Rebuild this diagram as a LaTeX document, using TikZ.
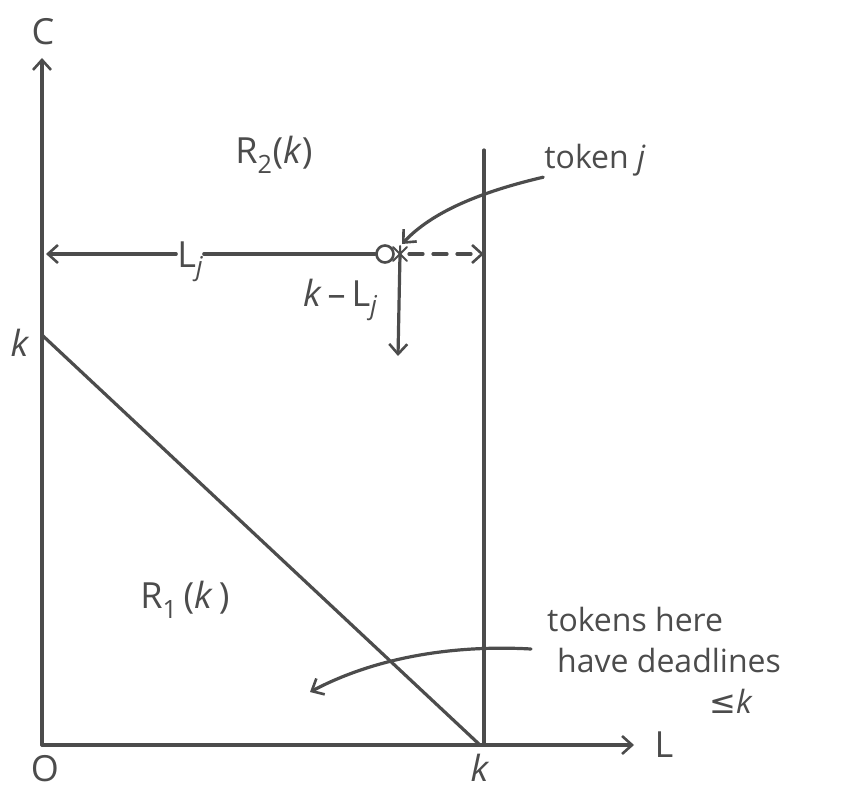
\documentclass[tikz,border=0pt]{standalone}
\usepackage{fontspec}
\setmainfont{Open Sans}
\newfontfamily\symfont{DejaVu Sans}
\usetikzlibrary{arrows.meta,calc}
\definecolor{pencil}{gray}{0.30}
\tikzset{
  ink/.style={draw=pencil, line width=3.2pt, line cap=round},
  tip/.style={-{Straight Barb[length=10pt,width=18pt,line width=2.6pt]}},
  lbl/.style={text=pencil, inner sep=1pt, font=\fontsize{32}{41}\selectfont},
  sym/.style={text=pencil, inner sep=1pt, font=\fontsize{36}{40}\selectfont},
}
\begin{document}
\begin{tikzpicture}[x=1pt,y=-1pt]
\useasboundingbox (0,0) rectangle (851,794);
% key points
\coordinate (O) at (42,745);
\coordinate (Ctop) at (42,58);
\coordinate (Lend) at (634,745);
\coordinate (kL) at (480,745);
\coordinate (kC) at (42,335);
\coordinate (vtop) at (484,150);
\coordinate (vbot) at (484,745);
\coordinate (hl) at (46,254);
\coordinate (hr) at (484,254);
% axes
\draw[ink,tip] (O) -- (Ctop);
\draw[ink,tip] (O) -- (Lend);
\draw[ink] (vtop) -- (vbot);
\draw[ink] (kC) -- (kL);
% labels on axes
\node[sym] (Clab) at (43,32) {C};
\node[sym] (Llab) at (664,745) {L};
\node[sym] (Olab) at (45,769) {O};
\node[sym] (kbot) at (480,768) {\textit{k}};
\node[sym] (kleft) at (20,343) {\textit{k}};
% regions
\node[sym] (R2) at (274,155) {R$_{\mathrm{2}}$(\textit{k})};
\node[sym] (R1) at (185,600) {R$_{\mathrm{1}}$\,(\textit{k}\,)};
% token j
\node[draw=pencil, line width=2.6pt, circle, minimum size=17pt, inner sep=0pt] (tok) at (385,254) {};
\coordinate (star) at (400,254);
\draw[ink, line width=2pt] ($(star)+(-7,-7)$) -- ($(star)+(7,7)$) ($(star)+(-7,7)$) -- ($(star)+(7,-7)$) ($(star)+(0,-8)$) -- ($(star)+(0,8)$);
\node[sym] (Lj) at (190,262) {L\textit{\fontsize{26}{30}\selectfont\raisebox{-8pt}{j}}};
\draw[ink,tip] (Lj.west |- hr) -- (hl);
\draw[ink] (Lj.east |- hr) -- (tok.west);
\draw[ink,tip,dash pattern=on 14pt off 10pt] ($(star)+(9,0)$) -- (hr);
\coordinate (down) at (398,356);
\draw[ink,tip] (star) -- (down);
\node[sym] (kLj) at (340,300) {\textit{k}\,--\,L\textit{\fontsize{26}{30}\selectfont\raisebox{-8pt}{j}}};
\node[lbl] (tokj) at (595,160) {token \textit{j}};
\draw[ink,tip] (tokj.south west) .. controls (480,192) and (432,212) .. (402,244);
% tokens here
\node[lbl, align=left, anchor=north west] (here) at (546,606) {tokens here\\ \hspace*{10pt}have deadlines\\ \hspace*{162pt}{\symfont ≤}\textit{k}};
\coordinate (hereto) at (310,692);
\draw[ink,tip] (531,649) .. controls (460,645) and (380,655) .. (hereto);
\end{tikzpicture}
\end{document}
